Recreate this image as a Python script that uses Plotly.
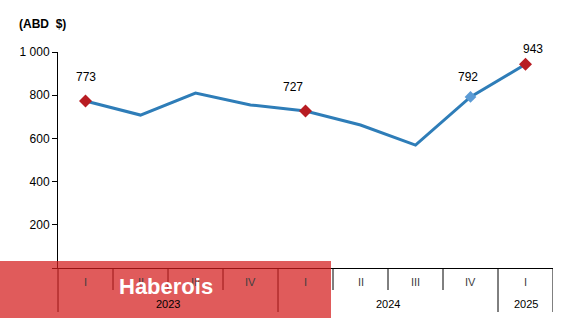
import plotly.graph_objects as go

quarters = ["I", "II", "III", "IV", "I", "II", "III", "IV", "I"]
years = ["2023", "2024", "2025"]
year_spans = [(0, 3), (4, 7), (8, 8)]
values = [773, 708, 810, 755, 727, 662, 569, 792, 943]
labeled_idx = [0, 4, 7, 8]
label_dx = [0, -13, -3, 7]
label_dy = [24, 24, 20, 15]
red_idx = [0, 4, 8]
blue_idx = [7]
y_ticks = [0, 200, 400, 600, 800, 1000]
y_ticktext = ["", "200", "400", "600", "800", "1 000"]

W, H = 563, 320
ML, MR, MT, MB = 58, 10, 52, 52
plot_h = H - MT - MB
plot_w = W - ML - MR

def py(px_below):
    # pixels below the x axis -> paper y
    return -px_below / plot_h

def pxx(px):
    return (px - ML) / plot_w

x = list(range(len(values)))
fig = go.Figure()
fig.add_trace(go.Scatter(x=x, y=values, mode="lines",
                         line=dict(color="#2E7DB8", width=3), hoverinfo="skip"))
fig.add_trace(go.Scatter(x=[x[i] for i in red_idx], y=[values[i] for i in red_idx],
                         mode="markers", marker=dict(symbol="diamond", size=10, color="#B81C22")))
fig.add_trace(go.Scatter(x=[x[i] for i in blue_idx], y=[values[i] for i in blue_idx],
                         mode="markers", marker=dict(symbol="diamond", size=9, color="#5B9BD5")))

FAM = "Liberation Sans, Arial, sans-serif"
fnt = dict(family=FAM, size=12, color="#000000")
anns = []
for i, dx, dy in zip(labeled_idx, label_dx, label_dy):
    anns.append(dict(x=x[i], y=values[i], xref="x", yref="y", text=str(values[i]),
                     showarrow=False, yshift=dy, xshift=dx, xanchor="center", yanchor="middle",
                     font=fnt))
for i, q in enumerate(quarters):
    anns.append(dict(x=i, y=py(14), xref="x", yref="paper", text=q, showarrow=False,
                     xanchor="center", yanchor="middle",
                     font=dict(family=FAM, size=11, color="#404040")))
for (a, b), yr in zip(year_spans, years):
    anns.append(dict(x=(a + b) / 2, y=py(36), xref="x", yref="paper", text=yr, showarrow=False,
                     xanchor="center", yanchor="middle",
                     font=dict(family=FAM, size=11, color="#000000")))
anns.append(dict(x=pxx(17), y=1 + 28 / plot_h, xref="paper", yref="paper", text="<b>(ABD  $)</b>",
                 showarrow=False, xanchor="left", yanchor="middle",
                 font=dict(family=FAM, size=12, color="#000000")))

shapes = []
boundaries_long = {-0.5, 3.5, 7.5, 8.5}
for k in range(1, len(values) + 1):
    bx = k - 0.5
    length = 44 if bx in boundaries_long else 22
    shapes.append(dict(type="line", xref="x", yref="paper", x0=bx, x1=bx, y0=0, y1=py(length),
                       line=dict(color="#000000", width=1)))
shapes.append(dict(type="line", xref="paper", yref="paper", x0=0, x1=0, y0=0, y1=py(44),
                   line=dict(color="#000000", width=1)))
# watermark box
shapes.append(dict(type="rect", xref="paper", yref="paper", x0=pxx(0), x1=pxx(331),
                   y0=py(-7), y1=py(50), fillcolor="rgba(212,28,28,0.72)", line=dict(width=0),
                   layer="above"))
anns.append(dict(x=pxx(166), y=py(18), xref="paper", yref="paper", text="<b>Haberois</b>",
                 showarrow=False, xanchor="center", yanchor="middle",
                 font=dict(family=FAM, size=22, color="#FFFFFF")))

fig.update_layout(
    width=W, height=H, margin=dict(l=ML, r=MR, t=MT, b=MB),
    paper_bgcolor="white", plot_bgcolor="white", showlegend=False,
    annotations=anns, shapes=shapes,
    xaxis=dict(range=[-0.5, 8.5], showgrid=False, zeroline=False, showticklabels=False,
               showline=True, linecolor="#000000", linewidth=1, ticks=""),
    yaxis=dict(range=[0, 1000], tickvals=y_ticks, ticktext=y_ticktext, showgrid=False,
               zeroline=False, showline=True, linecolor="#000000", linewidth=1,
               ticks="outside", ticklen=5, tickcolor="#000000",
               tickfont=dict(family=FAM, size=12, color="#000000")),
)
fig.write_html("out.html")
